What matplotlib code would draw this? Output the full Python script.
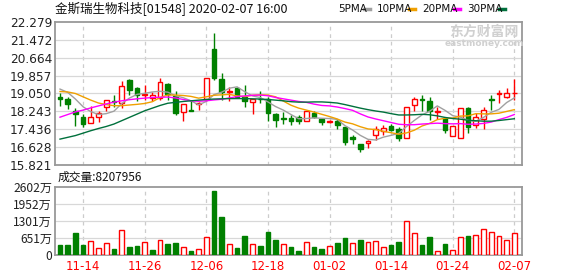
import matplotlib
matplotlib.use("Agg")
import matplotlib.pyplot as plt
import numpy as np

# ---------------- data ----------------
dates = ["11-11","11-12","11-13","11-14","11-15","11-18","11-19","11-20","11-21","11-22",
         "11-25","11-26","11-27","11-28","11-29","12-02","12-03","12-04","12-05","12-06",
         "12-09","12-10","12-11","12-12","12-13","12-16","12-17","12-18","12-19","12-20",
         "12-23","12-24","12-27","12-30","12-31","01-02","01-03","01-06","01-07","01-08",
         "01-09","01-10","01-13","01-14","01-15","01-16","01-17","01-20","01-21","01-22",
         "01-23","01-24","01-29","01-30","01-31","02-03","02-04","02-05","02-06","02-07"]

opens  = [18.90,18.79,18.25,17.98,17.70,18.01,18.46,18.72,18.61,19.66,
          19.29,18.99,18.84,18.84,19.47,18.94,18.21,18.31,18.56,18.78,
          21.06,19.70,19.11,19.32,18.91,18.66,18.82,18.81,18.13,17.93,
          17.95,18.01,17.79,18.19,17.91,17.76,17.82,17.52,17.08,16.78,
          16.80,17.19,17.37,17.59,17.46,17.04,18.55,18.78,18.73,18.23,
          17.94,17.11,17.04,18.39,17.64,17.89,18.79,19.03,18.91,19.05]
highs  = [19.08,18.87,18.39,18.12,18.50,18.27,18.76,18.97,19.62,19.71,
          19.34,19.44,19.14,19.74,19.51,19.17,18.57,18.69,18.67,19.76,
          21.77,19.97,19.33,19.33,19.44,18.79,19.17,18.91,18.19,18.22,
          18.09,18.09,18.24,18.24,17.91,17.86,17.91,17.52,17.16,16.78,
          16.96,17.56,17.62,17.67,17.53,18.43,18.87,18.99,18.88,18.44,
          17.98,17.59,18.39,18.43,18.16,18.43,18.99,19.22,19.29,19.71]
lows   = [18.48,18.37,17.60,17.52,17.70,17.77,18.27,18.45,18.39,18.99,
          18.73,18.76,18.73,18.76,18.76,18.06,17.79,18.25,18.32,18.69,
          19.67,18.76,18.73,18.88,18.46,18.12,18.61,17.83,17.53,17.67,
          17.61,17.67,17.79,17.94,17.61,17.72,17.46,16.74,16.78,16.39,
          16.57,16.96,17.19,17.37,16.89,17.04,18.28,18.28,17.86,17.88,
          17.26,17.11,17.02,17.26,17.49,17.44,18.31,18.61,18.84,18.76]
closes = [18.78,18.57,18.13,17.68,17.98,18.16,18.76,18.68,19.39,19.21,
          18.99,19.03,18.96,19.56,19.02,18.19,18.57,18.27,18.64,19.76,
          19.74,19.14,19.18,18.91,18.69,18.79,18.78,18.16,17.86,17.89,
          17.83,17.80,18.24,18.01,17.76,17.79,17.61,16.84,17.01,16.56,
          16.89,17.44,17.49,17.41,17.04,18.43,18.79,18.75,18.24,18.26,
          17.41,17.59,18.39,17.53,18.01,18.31,18.76,19.05,19.07,19.08]

# volume in 万 shares
volumes = [383,383,855,383,536,255,447,230,957,306,
           345,498,191,562,434,460,294,153,217,677,
           2451,1455,408,268,728,408,345,881,574,408,
           306,153,498,306,230,345,472,651,460,574,
           498,536,294,383,498,1289,842,383,689,153,
           421,179,677,728,766,996,868,715,562,842]

ma5  = [19.25,19.10,18.80,18.45,18.23,18.10,18.14,18.25,18.59,18.84,
        19.01,19.06,19.12,19.15,19.11,18.95,18.86,18.72,18.54,18.69,
        19.00,19.11,19.29,19.35,19.13,18.94,18.87,18.67,18.46,18.30,
        18.10,17.91,17.92,17.95,17.93,17.92,17.88,17.60,17.40,17.16,
        16.98,16.95,17.08,17.16,17.25,17.56,17.83,18.08,18.25,18.49,
        18.29,18.05,17.98,17.84,17.79,17.97,18.20,18.33,18.64,18.85]
ma10 = [19.14,19.12,19.05,18.90,18.75,18.62,18.55,18.50,18.50,18.53,
        18.56,18.60,18.68,18.87,18.98,18.98,18.96,18.92,18.84,18.90,
        18.97,18.99,19.01,18.94,18.91,18.97,18.99,18.98,18.90,18.71,
        18.52,18.39,18.30,18.21,18.11,18.01,17.90,17.76,17.68,17.55,
        17.45,17.42,17.34,17.28,17.21,17.27,17.39,17.58,17.70,17.87,
        17.93,17.94,18.03,18.04,18.14,18.13,18.13,18.16,18.24,18.32]
ma20 = [17.98,18.10,18.22,18.30,18.40,18.49,18.58,18.66,18.72,18.77,
        18.81,18.84,18.87,18.88,18.89,18.85,18.78,18.72,18.70,18.72,
        18.76,18.79,18.85,18.91,18.94,18.97,18.98,18.95,18.87,18.81,
        18.75,18.69,18.65,18.57,18.51,18.49,18.44,18.37,18.29,18.13,
        17.99,17.90,17.82,17.74,17.66,17.64,17.64,17.67,17.69,17.71,
        17.69,17.68,17.69,17.66,17.67,17.70,17.76,17.87,17.97,18.10]
ma30 = [16.99,17.07,17.15,17.26,17.37,17.47,17.56,17.67,17.82,17.97,
        18.12,18.27,18.39,18.51,18.61,18.65,18.69,18.72,18.75,18.78,
        18.80,18.81,18.82,18.82,18.82,18.81,18.80,18.78,18.75,18.72,
        18.68,18.66,18.66,18.67,18.67,18.65,18.62,18.55,18.47,18.39,
        18.32,18.26,18.21,18.14,18.08,18.08,18.09,18.11,18.09,18.04,
        17.97,17.92,17.89,17.84,17.82,17.80,17.80,17.83,17.87,17.91]

price_ticks = ["22.279","21.472","20.664","19.857","19.050","18.243","17.436","16.628","15.821"]
vol_ticks = [0, 651, 1301, 1952, 2602]
vol_tick_labels = ["0", "651万", "1301万", "1952万", "2602万"]
date_tick_idx = [3, 11, 19, 27, 35, 43, 51, 59]
title = "金斯瑞生物科技[01548] 2020-02-07 16:00"
vol_title = "成交量:8207956"
ma_names = ["5PMA", "10PMA", "20PMA", "30PMA"]

# ---------------- styling ----------------
W, H = 578, 276
RED = "#ff0000"
GREEN = "#008000"
MA_COLORS = ["#a0a0a0", "#f0a000", "#ff00ff", "#00703c"]
GRID = "#d8d8d8"
FRAME = "#999999"
CJK = ["Noto Sans CJK SC", "DejaVu Sans"]

fig = plt.figure(figsize=(W / 100, H / 100), dpi=100)
fig.patch.set_facecolor("white")

def px_axes(l, t, r, b):
    return fig.add_axes([l / W, (H - b) / H, (r - l) / W, (b - t) / H])

ax = px_axes(55, 22, 522, 165)
axv = px_axes(55, 187, 522, 255)

n = len(closes)
x = np.arange(n)
xlim = (-0.65, 60.0)
bw = 0.62

pt = [float(t) for t in price_ticks]
ymin, ymax = min(pt), max(pt)

for a in (ax, axv):
    a.set_xlim(*xlim)
    for s in a.spines.values():
        s.set_color(FRAME)
        s.set_linewidth(1.3)
    a.tick_params(length=0)
    a.set_xticks([])
    for i in date_tick_idx:
        a.axvline(i, color="#cccccc", lw=0.9, ls=(0, (3, 3)), zorder=0)

# price grid
ax.set_ylim(ymin, ymax)
ax.set_yticks(pt)
ax.set_yticklabels(price_ticks, fontsize=8.7, color="#222222")
ax.tick_params(axis="y", pad=2)
for v in pt[1:-1]:
    ax.axhline(v, color=GRID, lw=0.9, zorder=0)

# candles
for i in range(n):
    o, h, l, c = opens[i], highs[i], lows[i], closes[i]
    up = c >= o
    col = RED if up else GREEN
    top, bot = max(o, c), min(o, c)
    ax.vlines(i, top, h, color=col, lw=1.0, zorder=3)
    ax.vlines(i, l, bot, color=col, lw=1.0, zorder=3)
    hgt = max(top - bot, 0.01)
    ax.bar(i, hgt, bottom=bot, width=bw, facecolor="white" if up else col,
           edgecolor=col, linewidth=1.0, zorder=4)

for vals, colr in zip([ma5, ma10, ma20, ma30], MA_COLORS):
    ax.plot(x, vals, color=colr, lw=1.0, zorder=5)

# title and legend
fig.text(55 / W, 1 - 9 / H, title, fontsize=9, family=CJK, va="center", ha="left", color="#111111")
lx = 338
for name, colr in zip(ma_names, MA_COLORS):
    t = fig.text(lx / W, 1 - 9 / H, name, fontsize=7.5, va="center", ha="left", color="#111111")
    wpx = 6.0 * len(name)
    fig.add_artist(plt.Line2D([(lx + wpx + 2) / W, (lx + wpx + 8) / W], [1 - 9 / H, 1 - 9 / H],
                              color=colr, lw=2.5, transform=fig.transFigure))
    lx += wpx + 15

# watermark
fig.text(484 / W, 1 - 32 / H, "东方财富网", fontsize=10, family=CJK, weight="bold",
         color="#d0d0d0", ha="center", va="center")
fig.text(484 / W, 1 - 43 / H, "eastmoney.com", fontsize=6.5, weight="bold",
         color="#d0d0d0", ha="center", va="center")

# volume
axv.set_ylim(0, vol_ticks[-1])
axv.set_yticks(vol_ticks)
axv.set_yticklabels(vol_tick_labels, fontsize=8.7, color="#222222", family=CJK)
axv.tick_params(axis="y", pad=2)
for v in vol_ticks[1:-1]:
    axv.axhline(v, color=GRID, lw=0.9, zorder=0)
for i in range(n):
    ref = closes[i - 1] if i > 0 else opens[i]
    up = closes[i] >= ref
    col = RED if up else GREEN
    axv.bar(i, volumes[i], width=bw, facecolor="white" if up else col,
            edgecolor=col, linewidth=1.0, zorder=3)

fig.text(58 / W, 1 - 177 / H, vol_title, fontsize=8.5, family=CJK, va="center", ha="left", color="#111111")

# date labels
for i in date_tick_idx:
    xf = (55 + (i - xlim[0]) / (xlim[1] - xlim[0]) * 467) / W
    fig.text(xf, 1 - 267 / H, dates[i], fontsize=8.5, color=RED, ha="center", va="center")

fig.savefig("out.png", dpi=100, facecolor="white")
